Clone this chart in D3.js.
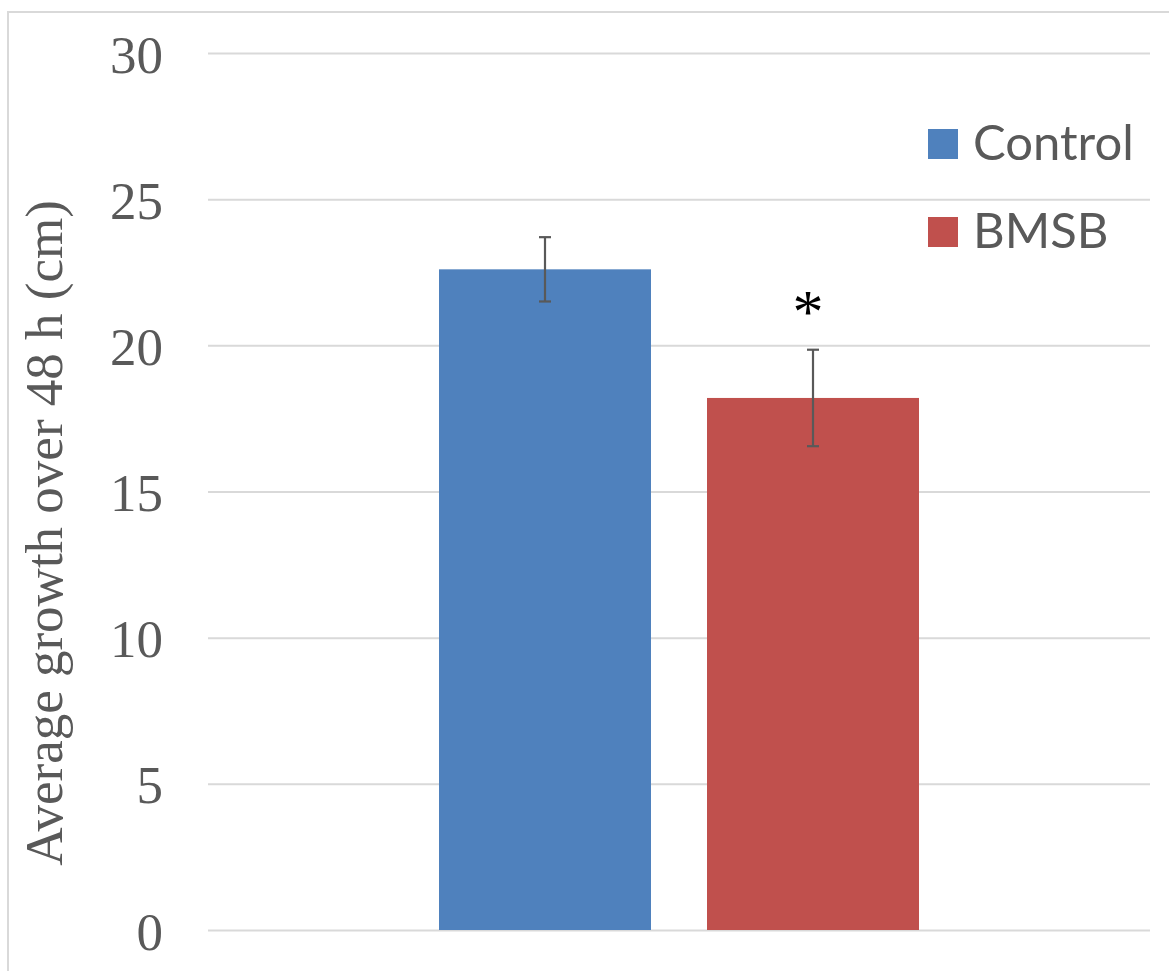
<!DOCTYPE html>
<html>
<head>
<meta charset="utf-8">
<script src="https://cdn.jsdelivr.net/npm/d3@7"></script>
<style>
  html, body { margin: 0; padding: 0; background: #fff; }
  svg { display: block; }
</style>
</head>
<body>
<script>
// Mean growth with standard error for each treatment
const categories = ["48 h"];
const seriesNames = ["Control", "BMSB"];
const seriesValues = [22.6, 18.2];
const seriesErrors = [1.1, 1.65];
const seriesColors = ["#4f81bd", "#c0504d"];
const significance = ["", "*"];
const yTicks = [0, 5, 10, 15, 20, 25, 30];
const yTitle = "Average growth over 48 h (cm)";

const W = 1169, H = 971;
const plot = { left: 208, right: 1150, top: 53, bottom: 930 };

const svg = d3.select("body").append("svg")
  .attr("width", W).attr("height", H);

// chart frame
svg.append("path")
  .attr("d", `M8,${H} V12 H${W}`)
  .attr("fill", "none").attr("stroke", "#d9d9d9").attr("stroke-width", 2);

const y = d3.scaleLinear().domain([0, 30]).range([plot.bottom, plot.top]);
const x0 = d3.scaleBand().domain(categories)
  .range([plot.left, plot.right]).paddingInner(0).paddingOuter(0.48125);
const x1 = d3.scaleBand().domain(seriesNames)
  .range([0, x0.bandwidth()]).paddingInner(0.209).paddingOuter(0);

// gridlines + tick labels
const yAxis = d3.axisLeft(y).tickValues(yTicks)
  .tickSize(-(plot.right - plot.left)).tickPadding(45).tickFormat(d3.format("d"));
const gy = svg.append("g").attr("transform", `translate(${plot.left},0)`).call(yAxis);
gy.select(".domain").remove();
gy.selectAll(".tick line").attr("stroke", "#d9d9d9").attr("stroke-width", 2);
gy.selectAll(".tick text")
  .attr("fill", "#595959")
  .attr("font-family", "'Liberation Serif', 'Times New Roman', serif")
  .attr("font-size", 53)
  .attr("dy", "0.36em");

// y title
svg.append("text")
  .attr("transform", `translate(62,${533}) rotate(-90)`)
  .attr("text-anchor", "middle")
  .attr("fill", "#595959")
  .attr("font-family", "'Liberation Serif', 'Times New Roman', serif")
  .attr("font-size", 53)
  .text(yTitle);

const rows = seriesNames.map((s, i) => ({
  cat: categories[0], name: s, value: seriesValues[i],
  err: seriesErrors[i], color: seriesColors[i], sig: significance[i]
}));

const g = svg.append("g");
const grp = g.selectAll("g.cat").data(categories).join("g")
  .attr("transform", d => `translate(${x0(d)},0)`);

grp.selectAll("rect").data(rows).join("rect")
  .attr("x", d => x1(d.name))
  .attr("y", d => y(d.value))
  .attr("width", x1.bandwidth())
  .attr("height", d => y(0) - y(d.value))
  .attr("fill", d => d.color);

// error bars
const eb = grp.selectAll("g.err").data(rows).join("g").attr("class", "err")
  .attr("stroke", "#595959").attr("stroke-width", 2.2);
const cx = d => x1(d.name) + x1.bandwidth() / 2;
eb.append("line")
  .attr("x1", cx).attr("x2", cx)
  .attr("y1", d => y(d.value + d.err)).attr("y2", d => y(d.value - d.err));
eb.append("line")
  .attr("x1", d => cx(d) - 6).attr("x2", d => cx(d) + 6)
  .attr("y1", d => y(d.value + d.err)).attr("y2", d => y(d.value + d.err));
eb.append("line")
  .attr("x1", d => cx(d) - 6).attr("x2", d => cx(d) + 6)
  .attr("y1", d => y(d.value - d.err)).attr("y2", d => y(d.value - d.err));

// significance marker
grp.selectAll("text.sig").data(rows.filter(d => d.sig)).join("text")
  .attr("class", "sig")
  .attr("x", d => cx(d) - 5)
  .attr("y", d => y(d.value + d.err) - 18)
  .attr("text-anchor", "middle")
  .attr("font-family", "'Liberation Serif', 'Times New Roman', serif")
  .attr("font-size", 62)
  .attr("fill", "#000")
  .text(d => d.sig);

// legend
const lg = svg.append("g").attr("transform", "translate(928,129)");
const li = lg.selectAll("g").data(rows).join("g")
  .attr("transform", (d, i) => `translate(0,${i * 88})`);
li.append("rect").attr("width", 30).attr("height", 30).attr("fill", d => d.color);
li.append("text")
  .attr("x", 45).attr("y", 31)
  .attr("fill", "#595959")
  .attr("font-family", "Lato, 'Liberation Sans', sans-serif")
  .attr("font-size", 49)
  .text(d => d.name);
</script>
</body>
</html>
